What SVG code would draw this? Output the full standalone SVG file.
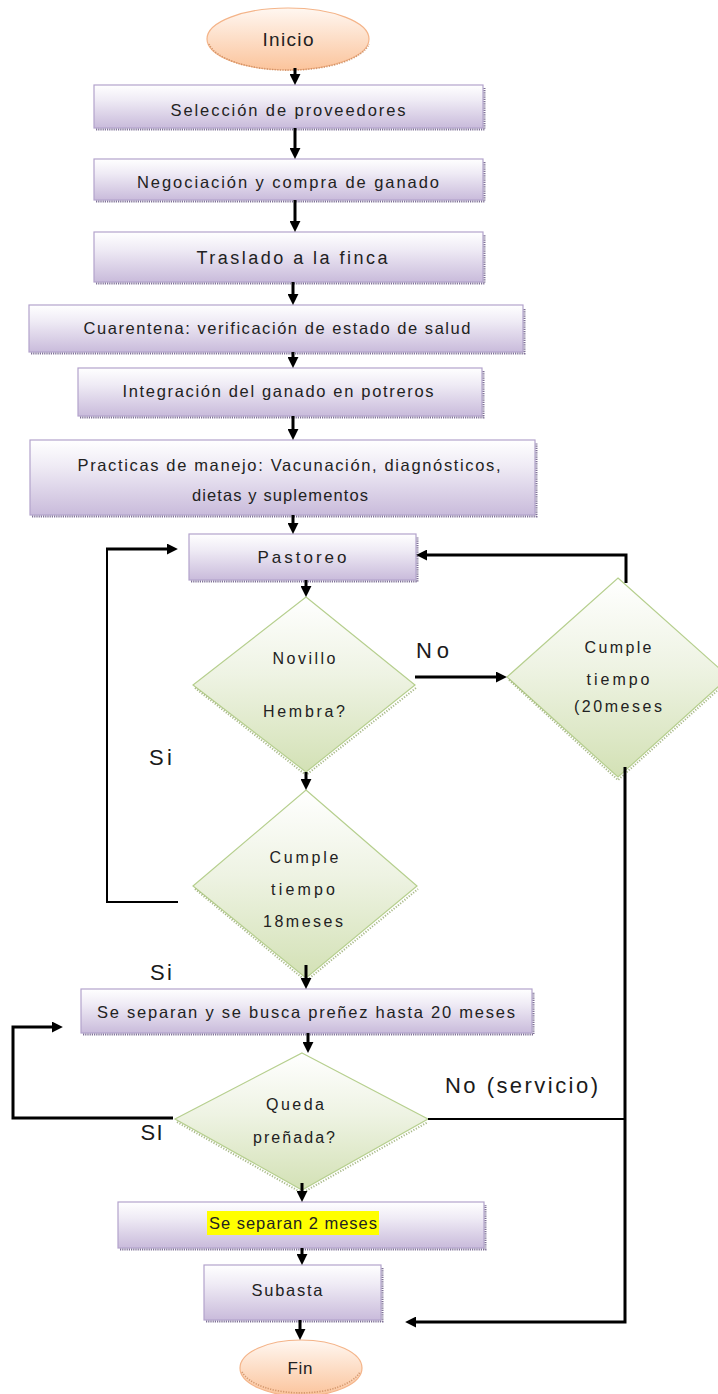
<svg xmlns="http://www.w3.org/2000/svg" width="718" height="1394" viewBox="0 0 718 1394">
<style>
text{font-family:"Liberation Sans","DejaVu Sans",sans-serif;fill:#222;text-anchor:middle}
.t{font-size:16.5px}
.d{font-size:16px}
.lbl{font-size:22px;fill:#1a1a1a}
.box{fill:url(#gBox);stroke:#b3a3cc;stroke-width:1.2}
.dia{fill:url(#gDia);stroke:#b6cf8e;stroke-width:1.2}
.ov{fill:url(#gOv);stroke:#f4b489;stroke-width:1.2}
.sh{fill:none;stroke:#7e7096;stroke-width:2;stroke-dasharray:1.2 1}
.dsh{fill:none;stroke:#8ea363;stroke-width:2;stroke-dasharray:1.2 1.6;opacity:.75}
.osh{fill:none;stroke:#c98a5c;stroke-width:1.6;stroke-dasharray:1.2 1.4;opacity:.8}
.a{fill:none;stroke:#000;stroke-width:3;marker-end:url(#ah)}
.thin{fill:none;stroke:#000;stroke-width:2}
</style>
<defs>
<linearGradient id="gBox" x1="0" y1="0" x2="0" y2="1">
<stop offset="0" stop-color="#ffffff"/><stop offset="0.35" stop-color="#efebf5"/><stop offset="1" stop-color="#c9bbdb"/>
</linearGradient>
<linearGradient id="gDia" x1="0" y1="0" x2="0" y2="1">
<stop offset="0" stop-color="#ffffff"/><stop offset="0.45" stop-color="#eef3e3"/><stop offset="1" stop-color="#d3e1b5"/>
</linearGradient>
<linearGradient id="gOv" x1="0" y1="0" x2="0" y2="1">
<stop offset="0" stop-color="#fff7f1"/><stop offset="1" stop-color="#fbc49c"/>
</linearGradient>
<marker id="ah" viewBox="0 0 10 10" refX="1" refY="5" markerWidth="11" markerHeight="11" markerUnits="userSpaceOnUse" orient="auto">
<path d="M0,0 L10,5 L0,10 z" fill="#000"/>
</marker>
</defs>

<g id="inicio">
<ellipse class="ov" cx="288" cy="39" rx="81" ry="31"/>
<path class="osh" d="M209,44 A81,31 0 0 0 369,44"/>
<text x="288" y="46" style="font-size:19px" textLength="51" lengthAdjust="spacing">Inicio</text>
</g>

<g id="seleccion">
<rect class="box" x="94" y="85" width="389" height="43"/>
<path class="sh" d="M96,129.5 H484.5 V88"/>
<text class="t" x="288" y="116" textLength="235" lengthAdjust="spacing">Selección de proveedores</text>
</g>

<g id="negociacion">
<rect class="box" x="94" y="159" width="389" height="41"/>
<path class="sh" d="M96,201.5 H484.5 V162"/>
<text class="t" x="288" y="188" textLength="302" lengthAdjust="spacing">Negociación y compra de ganado</text>
</g>

<g id="traslado">
<rect class="box" x="94" y="232" width="389" height="50"/>
<path class="sh" d="M96,283.5 H484.5 V235"/>
<text x="292" y="264" style="font-size:18px" textLength="191" lengthAdjust="spacing">Traslado a la finca</text>
</g>

<g id="cuarentena">
<rect class="box" x="29" y="305" width="494" height="47"/>
<path class="sh" d="M31,353.5 H524.5 V308"/>
<text class="t" x="277" y="334" textLength="387" lengthAdjust="spacing">Cuarentena: verificación de estado de salud</text>
</g>

<g id="integracion">
<rect class="box" x="78" y="368" width="404" height="48"/>
<path class="sh" d="M80,417.5 H483.5 V371"/>
<text class="t" x="278" y="397" textLength="311" lengthAdjust="spacing">Integración del ganado en potreros</text>
</g>

<g id="practicas">
<rect class="box" x="30" y="440" width="505" height="75"/>
<path class="sh" d="M32,516.5 H536.5 V443"/>
<text class="t" x="289" y="471" textLength="423" lengthAdjust="spacing">Practicas de manejo: Vacunación, diagnósticos,</text>
<text class="t" x="280" y="501" textLength="176" lengthAdjust="spacing">dietas y suplementos</text>
</g>

<g id="pastoreo">
<rect class="box" x="189" y="534" width="227" height="46"/>
<path class="sh" d="M191,581.5 H417.5 V537"/>
<text x="302" y="563" style="font-size:17px" textLength="89" lengthAdjust="spacing">Pastoreo</text>
</g>

<g id="novillo">
<path class="dia" d="M306,597 L415,685 L306,772 L193,685 Z"/>
<path class="dsh" d="M195,688 L306,775 L416,688"/>
<text class="d" x="304" y="664" textLength="63" lengthAdjust="spacing">Novillo</text>
<text class="d" x="304" y="717" textLength="82" lengthAdjust="spacing">Hembra?</text>
</g>

<g id="cumple20">
<path class="dia" d="M618,578 L729,677 L618,777 L507,677 Z"/>
<path class="dsh" d="M509,680 L618,780 L729,680"/>
<text class="d" x="618" y="653" textLength="67" lengthAdjust="spacing">Cumple</text>
<text class="d" x="618" y="685" textLength="63" lengthAdjust="spacing">tiempo</text>
<text class="d" x="618" y="712" textLength="88" lengthAdjust="spacing">(20meses</text>
</g>

<g id="cumple18">
<path class="dia" d="M306,790 L417,886 L306,978 L193,886 Z"/>
<path class="dsh" d="M195,889 L306,981 L418,889"/>
<text class="d" x="304" y="863" textLength="69" lengthAdjust="spacing">Cumple</text>
<text class="d" x="303" y="895" textLength="64" lengthAdjust="spacing">tiempo</text>
<text class="d" x="303" y="927" textLength="80" lengthAdjust="spacing">18meses</text>
</g>

<g id="separan">
<rect class="box" x="81" y="989" width="451" height="44"/>
<path class="sh" d="M83,1034.5 H533.5 V992"/>
<text class="t" x="306" y="1018" textLength="418" lengthAdjust="spacing">Se separan y se busca preñez hasta 20 meses</text>
</g>

<g id="queda">
<path class="dia" d="M302,1053 L428,1119 L302,1190 L175,1119 Z"/>
<path class="dsh" d="M177,1122 L302,1193 L428,1122"/>
<text class="d" x="295" y="1110" textLength="58" lengthAdjust="spacing">Queda</text>
<text class="d" x="294" y="1143" textLength="82" lengthAdjust="spacing">preñada?</text>
</g>

<g id="separan2">
<rect class="box" x="118" y="1202" width="366" height="46"/>
<path class="sh" d="M120,1249.5 H485.5 V1205"/>
<rect x="207" y="1211" width="172" height="24" fill="#ffff00"/>
<text class="t" x="293" y="1229" textLength="168" lengthAdjust="spacing">Se separan 2 meses</text>
</g>

<g id="subasta">
<rect class="box" x="204" y="1265" width="177" height="55"/>
<path class="sh" d="M206,1321.5 H382.5 V1268"/>
<text class="t" x="287" y="1296" textLength="71" lengthAdjust="spacing">Subasta</text>
</g>

<g id="fin">
<ellipse class="ov" cx="301" cy="1368" rx="61" ry="28"/>
<path class="osh" d="M242,1372 A61,28 0 0 0 360,1372"/>
<text x="300" y="1374" style="font-size:17px" textLength="25" lengthAdjust="spacing">Fin</text>
</g>

<g id="labels">
<text class="lbl" x="432.5" y="658" textLength="33" lengthAdjust="spacing">No</text>
<text class="lbl" x="160.5" y="765" textLength="23" lengthAdjust="spacing">Si</text>
<text class="lbl" x="161" y="980" textLength="22" lengthAdjust="spacing">Si</text>
<text class="lbl" x="521.5" y="1093" textLength="153" lengthAdjust="spacing">No (servicio)</text>
<text class="lbl" x="151.5" y="1140" textLength="22" lengthAdjust="spacing">SI</text>
</g>

<g id="connectors">
<path class="a" d="M295,68 V75"/>
<path class="a" d="M295,128 V149"/>
<path class="a" d="M295,200 V222"/>
<path class="a" d="M293,282 V295"/>
<path class="a" d="M293,352 V358"/>
<path class="a" d="M293,416 V430"/>
<path class="a" d="M293,515 V524"/>
<path class="a" d="M306,580 V587"/>
<path class="a" d="M306,772 V780"/>
<path class="a" d="M306,965 V979"/>
<path class="a" d="M308,1033 V1043"/>
<path class="a" d="M302,1183 V1192"/>
<path class="a" d="M302,1248 V1255"/>
<path class="a" d="M300,1320 V1330"/>
<path class="a" d="M415,677 H497"/>
<path class="thin" d="M178,902 H107 V549"/>
<path class="a" d="M106,549 H168"/>
<path class="a" d="M626,583 V555 H426"/>
<path class="a" d="M625,767 V1322 H415"/>
<path class="thin" d="M428,1119 H625"/>
<path class="a" d="M173,1118 H13 V1027 H53"/>
</g>
</svg>
